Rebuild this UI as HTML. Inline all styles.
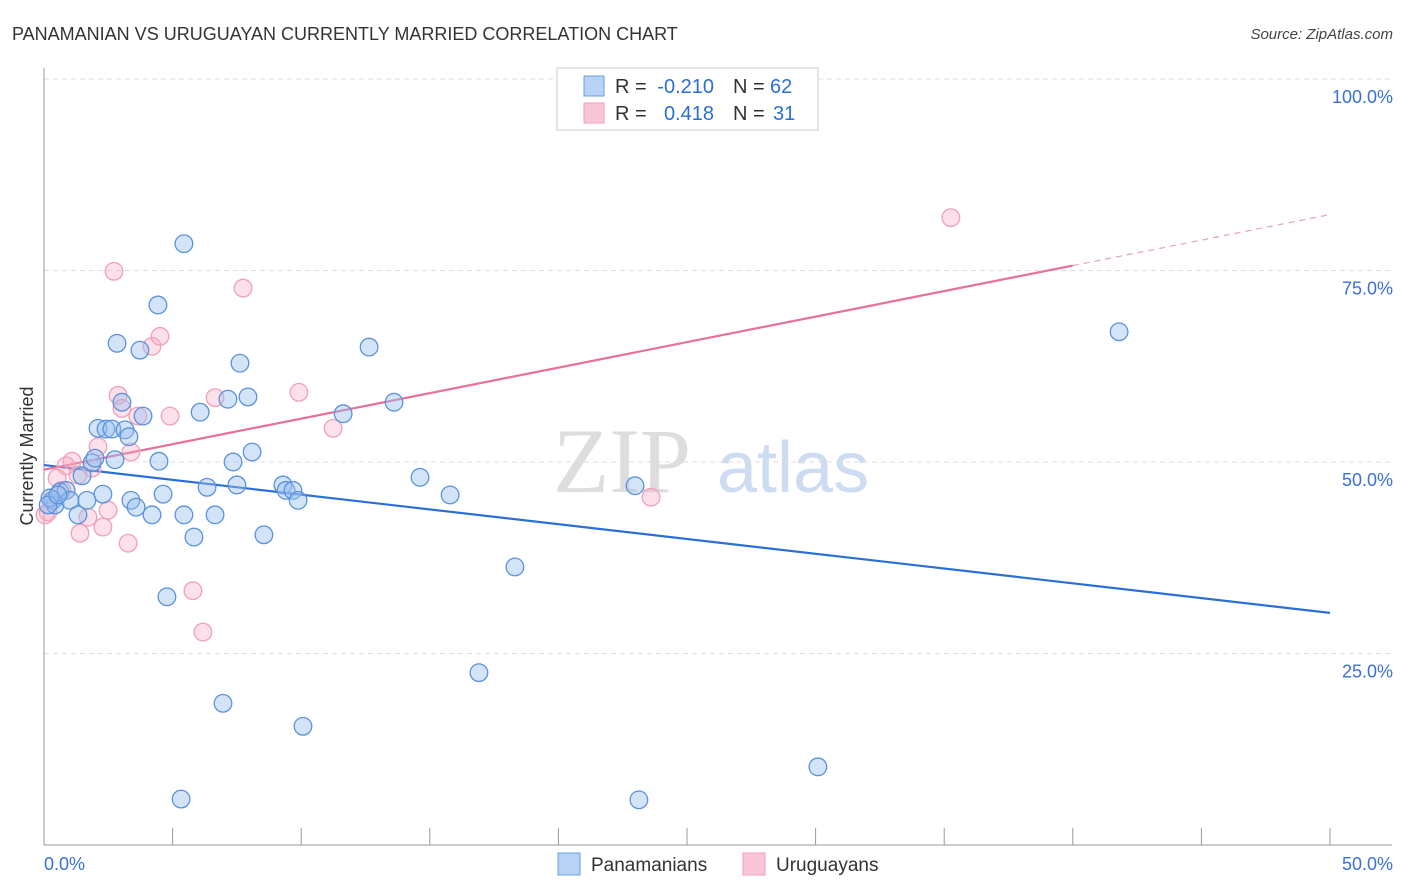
<!DOCTYPE html>
<html><head><meta charset="utf-8"><style>
body{margin:0;background:#fff;font-family:"Liberation Sans",sans-serif}
svg{display:block}
</style></head><body>
<svg id="chart" width="1406" height="892" viewBox="0 0 1406 892" xmlns="http://www.w3.org/2000/svg" font-family="Liberation Sans, sans-serif">
<text x="12" y="40" font-size="18" fill="#333">PANAMANIAN VS URUGUAYAN CURRENTLY MARRIED CORRELATION CHART</text>
<text x="1393" y="39" font-size="15" fill="#444" font-style="italic" text-anchor="end">Source: ZipAtlas.com</text>
<g>
<text x="553" y="492" font-size="92" font-family="Liberation Serif, serif" fill="#ddd">ZIP</text>
<text x="717" y="492" font-size="72" fill="#cddcf2">atlas</text>
</g>
<g id="grid"></g>
<g id="axes"></g>
<g id="trend"></g>
<g id="points"></g>
<g font-size="20">
<rect x="557" y="68" width="261" height="62" fill="#fff" stroke="#ccc"/>
<rect x="584" y="76" width="20" height="20" fill="#b8d2f6" stroke="#6a9fe0"/>
<text x="615" y="93" fill="#333">R =</text>
<text x="714" y="93" fill="#2b6fd6" text-anchor="end">-0.210</text>
<text x="733" y="93" fill="#333">N =</text>
<text x="770" y="93" fill="#2b6fd6">62</text>
<rect x="584" y="103" width="20" height="20" fill="#f9c6d6" stroke="#f0a0b8"/>
<text x="615" y="120" fill="#333">R =</text>
<text x="714" y="120" fill="#2b6fd6" text-anchor="end">0.418</text>
<text x="733" y="120" fill="#333">N =</text>
<text x="773" y="120" fill="#2b6fd6">31</text>
</g>
<g>
<rect x="558" y="853" width="22" height="22" fill="#b8d2f6" stroke="#6a9fe0"/>
<text x="591" y="871" font-size="19" fill="#333">Panamanians</text>
<rect x="743" y="853" width="22" height="22" fill="#f9c6d6" stroke="#f0a0b8"/>
<text x="776" y="871" font-size="19" fill="#333">Uruguayans</text>
</g>
<text transform="translate(33,456) rotate(-90)" font-size="18" fill="#333" text-anchor="middle">Currently Married</text>
</svg>
<script>
const blueX=[0.35,0.43,0.62,0.86,1.01,1.32,1.48,1.67,1.87,1.98,2.10,2.29,2.41,2.64,2.76,2.84,3.03,3.15,3.30,3.38,3.58,3.73,3.85,4.20,4.43,4.47,4.63,4.78,5.33,5.44,5.44,5.83,6.07,6.34,6.65,6.96,7.15,7.35,7.50,7.62,7.93,8.09,8.55,9.29,9.41,9.68,9.88,10.07,11.63,12.64,13.61,14.62,15.79,16.91,18.31,22.98,23.13,30.09,41.80,0.23,0.16,0.54];
const blueY=[45.0,44.4,46.1,46.3,45.0,43.1,48.2,45.0,49.9,50.5,54.4,45.8,54.3,54.3,50.3,65.5,57.8,54.2,53.3,45.0,44.1,64.6,56.0,43.1,70.5,50.1,45.8,32.4,6.0,78.5,43.1,40.2,56.5,46.7,43.1,18.5,58.2,50.0,47.0,62.9,58.5,51.3,40.5,47.0,46.3,46.3,45.0,15.5,56.3,65.0,57.8,48.0,45.7,22.5,36.3,46.9,5.9,10.2,67.0,45.3,44.4,45.7];
const pinkX=[0.16,0.31,0.51,0.70,0.86,1.09,1.32,1.40,1.71,1.87,2.10,2.29,2.49,2.72,2.88,3.03,3.27,3.38,3.65,4.20,4.51,4.90,5.79,6.18,6.65,7.74,9.91,11.24,23.60,35.26,0.04];
const pinkY=[43.5,45.0,47.9,46.3,49.5,50.1,48.3,40.7,42.8,49.2,52.0,41.5,43.7,74.9,58.7,57.0,39.4,51.3,56.0,65.1,66.4,56.0,33.2,27.8,58.4,72.7,59.1,54.4,45.4,81.9,43.1];
const blueTrend=[49.6,30.3];
const pinkTrend=[49.0,82.3];
const yTicks=[25,50,75,100];
const yTickLabels=["25.0%","50.0%","75.0%","100.0%"];
const xTickCount=10;

const NS="http://www.w3.org/2000/svg";
const X0=44,X1=1330,Y0=845,Y100=79;
const sx=v=>X0+(v/50)*(X1-X0);
const sy=v=>Y0-(v/100)*(Y0-Y100);
function mk(tag,attrs,parent){const e=document.createElementNS(NS,tag);for(const k in attrs)e.setAttribute(k,attrs[k]);parent.appendChild(e);return e;}
const grid=document.getElementById('grid'),axes=document.getElementById('axes'),trend=document.getElementById('trend'),pts=document.getElementById('points');
yTicks.forEach((t,i)=>{
 const l=mk('line',{x1:X0,x2:1392,y1:sy(t),y2:sy(t),stroke:'#ddd','stroke-dasharray':'5,4'},grid);
 
 
 const tx=mk('text',{x:1393,y:sy(t)+24,'font-size':18,fill:'#3a70d8','text-anchor':'end'},grid);
 tx.textContent=yTickLabels[i];
 
 
});
const ya=mk('line',{x1:X0,x2:X0,y1:68,y2:Y0,stroke:'#999'},axes);


const xa=mk('line',{x1:X0,x2:1392,y1:Y0,y2:Y0,stroke:'#999'},axes);


for(let i=1;i<=xTickCount;i++){
 const t=mk('line',{x1:sx(i*5),x2:sx(i*5),y1:828,y2:Y0,stroke:'#999'},axes);
 
 
}
const xl0=mk('text',{x:44,y:870,'font-size':18,fill:'#3a70d8'},axes);xl0.textContent='0.0%';


const xl1=mk('text',{x:1393,y:870,'font-size':18,fill:'#3a70d8','text-anchor':'end'},axes);xl1.textContent='50.0%';



function dot(x,y,fill,stroke,name){
 const c=mk('circle',{cx:sx(x),cy:sy(y),r:8.8,fill:fill,stroke:stroke,'stroke-width':1.3},pts);
 
 
}
pinkX.forEach((x,i)=>dot(x,pinkY[i],'rgba(245,170,195,0.35)','#f0a0b8','uruguayan-point'));
blueX.forEach((x,i)=>dot(x,blueY[i],'rgba(150,190,240,0.42)','#5a92dc','panamanian-point'));

const bl=mk('line',{x1:sx(0),y1:sy(blueTrend[0]),x2:sx(50),y2:sy(blueTrend[1]),stroke:'#2b6fd6','stroke-width':2.2},trend);


const pm=v=>pinkTrend[0]+(pinkTrend[1]-pinkTrend[0])*v/50;
const pl=mk('line',{x1:sx(0),y1:sy(pm(0)),x2:sx(40),y2:sy(pm(40)),stroke:'#e8709a','stroke-width':2.2},trend);


const pd=mk('line',{x1:sx(40),y1:sy(pm(40)),x2:sx(50),y2:sy(pm(50)),stroke:'#e8a0b8','stroke-width':1.2,'stroke-dasharray':'6,5'},trend);


</script>
</body></html>
